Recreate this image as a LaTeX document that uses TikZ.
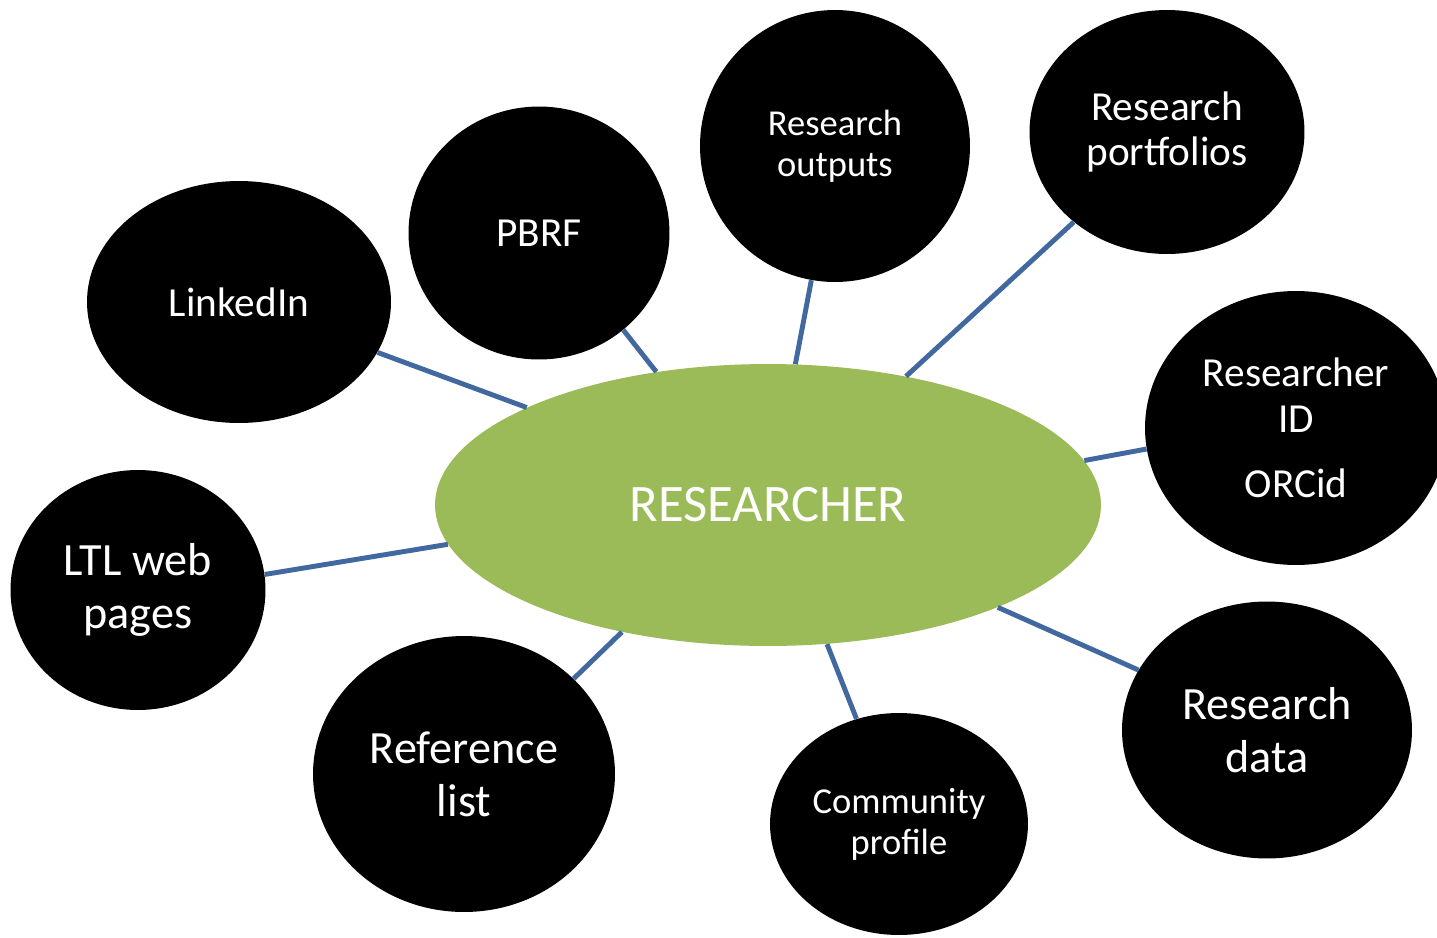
\documentclass[tikz,border=0pt]{standalone}
\usepackage{fontspec}
\setmainfont{Carlito}
\usetikzlibrary{shapes.geometric}
\definecolor{hubgreen}{HTML}{9BBB59}
\definecolor{linkblue}{HTML}{41699F}
\begin{document}
\begin{tikzpicture}[x=0.02cm,y=-0.02cm,
  bubble/.style={ellipse, fill=black, text=white, inner sep=0pt, align=center},
  hub/.style={ellipse, fill=hubgreen, text=white, inner sep=0pt, align=center},
  fbig/.style={font=\fontsize{26.3}{30}\selectfont},
  fmid/.style={font=\fontsize{23.5}{26}\selectfont},
  fsmall/.style={font=\fontsize{20.8}{23.2}\selectfont},
  link/.style={draw=linkblue, line width=2.8pt}]
\useasboundingbox (0,0) rectangle (1437,937);
\fill[white] (0,0) rectangle (1437,937);

\node[hub, font=\fontsize{30}{34}\selectfont, minimum width=13.32cm, minimum height=5.64cm] (hub) at (768,505)
  {RESEARCHER};

\node[bubble, fmid, minimum width=6.08cm, minimum height=4.84cm] (linkedin) at (239,302)
  {LinkedIn};
\node[bubble, fmid, minimum width=5.22cm, minimum height=5.06cm] (pbrf) at (539,233)
  {PBRF};
\node[bubble, fsmall, minimum width=5.40cm, minimum height=5.44cm] (outputs) at (835,146)
  {Research\\outputs};
\node[bubble, fmid, minimum width=5.50cm, minimum height=4.88cm] (portfolios) at (1167,132)
  {Research\\portfolios};
\node[bubble, fmid, minimum width=6.04cm, minimum height=5.48cm] (rid) at (1296,428)
  {Researcher\\ID\\[11pt]ORCid};
\node[bubble, fbig, minimum width=5.80cm, minimum height=5.14cm] (data) at (1267,730)
  {Research\\data};
\node[bubble, fsmall, minimum width=5.16cm, minimum height=4.44cm] (community) at (899,824)
  {Community\\profile};
\node[bubble, fbig, minimum width=6.04cm, minimum height=5.52cm] (reference) at (464,774)
  {Reference\\list};
\node[bubble, fbig, minimum width=5.10cm, minimum height=4.80cm] (ltl) at (138,590)
  {LTL web\\pages};

\draw[link] (linkedin.-20.9) -- (hub.158.9);
\draw[link] (pbrf.-49.8) -- (hub.130);
\draw[link] (outputs.-100.5) -- (hub.79.4);
\draw[link] (portfolios.-136.8) -- (hub.43.1);
\draw[link] (rid.188.5) -- (hub.8.4);
\draw[link] (data.155.7) -- (hub.-24.4);
\draw[link] (community.112.2) -- (hub.-67.9);
\draw[link] (reference.41.6) -- (hub.221.5);
\draw[link] (ltl.7.8) -- (hub.187.6);
\end{tikzpicture}
\end{document}
